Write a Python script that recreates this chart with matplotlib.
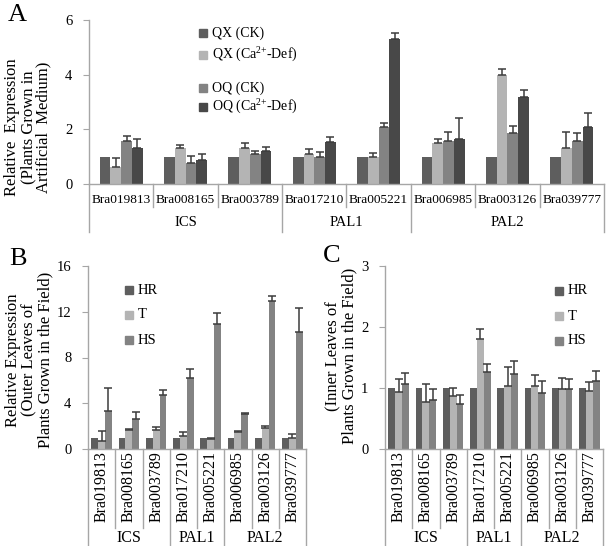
import matplotlib
matplotlib.use("Agg")
import matplotlib.pyplot as plt
from matplotlib.patches import Rectangle
import numpy as np

plt.rcParams['font.family'] = 'Liberation Serif'
plt.rcParams['mathtext.fontset'] = 'custom'
plt.rcParams['mathtext.rm'] = 'Liberation Serif'
plt.rcParams['mathtext.default'] = 'regular'

genes = ['Bra019813', 'Bra008165', 'Bra003789', 'Bra017210',
         'Bra005221', 'Bra006985', 'Bra003126', 'Bra039777']
groups = ['ICS', 'PAL1', 'PAL2']
group_sizes = [3, 2, 3]

# panel A: artificial medium
a_qx_ck = [1, 1, 1, 1, 1, 1, 1, 1]
a_qx_def = [0.61, 1.32, 1.30, 1.09, 0.98, 1.49, 3.97, 1.33]
a_qx_def_err = [0.33, 0.11, 0.20, 0.19, 0.17, 0.14, 0.23, 0.58]
a_oq_ck = [1.59, 0.78, 1.08, 0.98, 2.08, 1.59, 1.88, 1.59]
a_oq_ck_err = [0.15, 0.24, 0.14, 0.18, 0.17, 0.32, 0.24, 0.29]
a_oq_def = [1.30, 0.86, 1.22, 1.54, 5.30, 1.64, 3.20, 2.10]
a_oq_def_err = [0.36, 0.22, 0.13, 0.18, 0.22, 0.77, 0.24, 0.49]

# panel B: outer leaves
b_hr = [1, 1, 1, 1, 1, 1, 1, 1]
b_t = [0.70, 1.65, 1.65, 1.10, 0.90, 1.45, 1.80, 1.00]
b_t_err = [0.85, 0.10, 0.30, 0.35, 0.10, 0.15, 0.25, 0.30]
b_hs = [3.30, 2.60, 4.75, 6.20, 10.90, 3.05, 12.90, 10.20]
b_hs_err = [2.00, 0.60, 0.45, 0.80, 1.00, 0.10, 0.50, 2.15]

# panel C: inner leaves
c_hr = [1, 1, 1, 1, 1, 1, 1, 1]
c_t = [0.93, 0.77, 0.87, 1.81, 1.03, 1.03, 0.98, 0.95]
c_t_err = [0.21, 0.29, 0.13, 0.15, 0.31, 0.18, 0.18, 0.15]
c_hs = [1.07, 0.80, 0.74, 1.26, 1.23, 0.91, 0.99, 1.12]
c_hs_err = [0.18, 0.18, 0.14, 0.13, 0.22, 0.21, 0.15, 0.16]

DARK, LIGHT, MID, DARKEST = '#5e5e5e', '#b4b4b4', '#838383', '#484848'
AX_GRAY = '#a6a6a6'
ERR = '#3c3c3c'
W, H = 609, 546

fig = plt.figure(figsize=(W / 100, H / 100), dpi=100)


def px_rect(l, t, r, b):
    return [l / W, 1 - b / H, (r - l) / W, (b - t) / H]


def bars(ax, series, width):
    x = np.arange(len(genes))
    n = len(series)
    for i, (vals, err, color) in enumerate(series):
        pos = x + (i - (n - 1) / 2) * width
        ax.bar(pos, vals, width, color=color, zorder=2)
        if err is not None:
            ax.errorbar(pos, vals, yerr=[np.zeros(len(vals)), err], fmt='none',
                        ecolor=ERR, elinewidth=1.1, capsize=3.2, capthick=1.1, zorder=3)


def category_axis(ax, ymax, ticks, lab_y, cat_end, grp_y, grp_end, rot, fs, gfs):
    ax.set_xlim(-0.5, len(genes) - 0.5)
    ax.set_ylim(0, ymax)
    ax.set_yticks(ticks)
    ax.set_xticks([])
    ax.tick_params(axis='y', direction='out', length=4, color=AX_GRAY,
                   labelsize=10.5, pad=8)
    for s in ['top', 'right']:
        ax.spines[s].set_visible(False)
    for s in ['left', 'bottom']:
        ax.spines[s].set_color(AX_GRAY)
        ax.spines[s].set_linewidth(1.0)
    tr = ax.get_xaxis_transform()
    for i, g in enumerate(genes):
        if rot:
            ax.text(i, lab_y, g, transform=tr, rotation=90, ha='center',
                    va='top', fontsize=fs)
        else:
            ax.text(i, lab_y, g, transform=tr, ha='center', va='center',
                    fontsize=fs)
    bounds = np.concatenate([[0], np.cumsum(group_sizes)]) - 0.5
    for k in range(len(genes) + 1):
        xb = k - 0.5
        end = grp_end if np.any(np.isclose(bounds, xb)) else cat_end
        ax.plot([xb, xb], [0, end], color=AX_GRAY, lw=1.0,
                transform=tr, clip_on=False)
    for g, lo, hi in zip(groups, bounds[:-1], bounds[1:]):
        ax.text((lo + hi) / 2, grp_y, g, transform=tr, ha='center',
                va='center', fontsize=gfs)


def legend(items, x, ys, fs):
    for (label, color), y in zip(items, ys):
        fig.add_artist(Rectangle((x / W, 1 - (y + 4) / H), 8 / W, 8 / H,
                                 transform=fig.transFigure, color=color))
        fig.text((x + 13) / W, 1 - y / H, label, fontsize=fs,
                 va='center', ha='left')


# ---- Panel A
axA = fig.add_axes(px_rect(89, 20, 604, 184))
bars(axA, [(a_qx_ck, None, DARK), (a_qx_def, a_qx_def_err, LIGHT),
           (a_oq_ck, a_oq_ck_err, MID), (a_oq_def, a_oq_def_err, DARKEST)], 0.167)
category_axis(axA, 6, [0, 2, 4, 6], -0.098, -0.14, -0.232, -0.293, False, 9.6, 10.5)
legend([('QX (CK)', DARK), ('QX (Ca$^{2{+}}$-Def)', LIGHT),
        ('OQ (CK)', MID), ('OQ (Ca$^{2{+}}$-Def)', DARKEST)],
       199, [33, 55, 88, 107], 10)
fig.text(28 / W, 1 - 127 / H,
         'Relative  Expression\n(Plants Grown in\nArtificial  Medium)',
         rotation=90, ha='center', va='center', fontsize=12,
         linespacing=0.98, multialignment='center')
fig.text(17 / W, 1 - 15 / H, 'A', fontsize=19, ha='center', va='center')

# ---- Panel B
axB = fig.add_axes(px_rect(88, 266, 306, 449))
bars(axB, [(b_hr, None, DARK), (b_t, b_t_err, LIGHT), (b_hs, b_hs_err, MID)], 0.25)
category_axis(axB, 16, [0, 4, 8, 12, 16], -0.012, -0.434, -0.485, -0.53, True, 11.5, 11.5)
legend([('HR', DARK), ('T', LIGHT), ('HS', MID)], 125, [290, 315, 340], 10.5)
fig.text(29 / W, 1 - 360 / H,
         'Relative Expression\n(Outer Leaves of\nPlants Grown in the Field)',
         rotation=90, ha='center', va='center', fontsize=12,
         linespacing=1.0, multialignment='center')
fig.text(18 / W, 1 - 259 / H, 'B', fontsize=19, ha='center', va='center')

# ---- Panel C
axC = fig.add_axes(px_rect(385, 266, 603, 449))
bars(axC, [(c_hr, None, DARK), (c_t, c_t_err, LIGHT), (c_hs, c_hs_err, MID)], 0.25)
category_axis(axC, 3, [0, 1, 2, 3], -0.012, -0.434, -0.485, -0.53, True, 11.5, 11.5)
legend([('HR', DARK), ('T', LIGHT), ('HS', MID)], 555, [291, 316, 341], 10.5)
fig.text(341 / W, 1 - 356 / H,
         '(Inner Leaves of\nPlants Grown in the Field)',
         rotation=90, ha='center', va='center', fontsize=12,
         linespacing=1.0, multialignment='center')
fig.text(332 / W, 1 - 256 / H, 'C', fontsize=19, ha='center', va='center')

fig.savefig('out.png', dpi=100)
